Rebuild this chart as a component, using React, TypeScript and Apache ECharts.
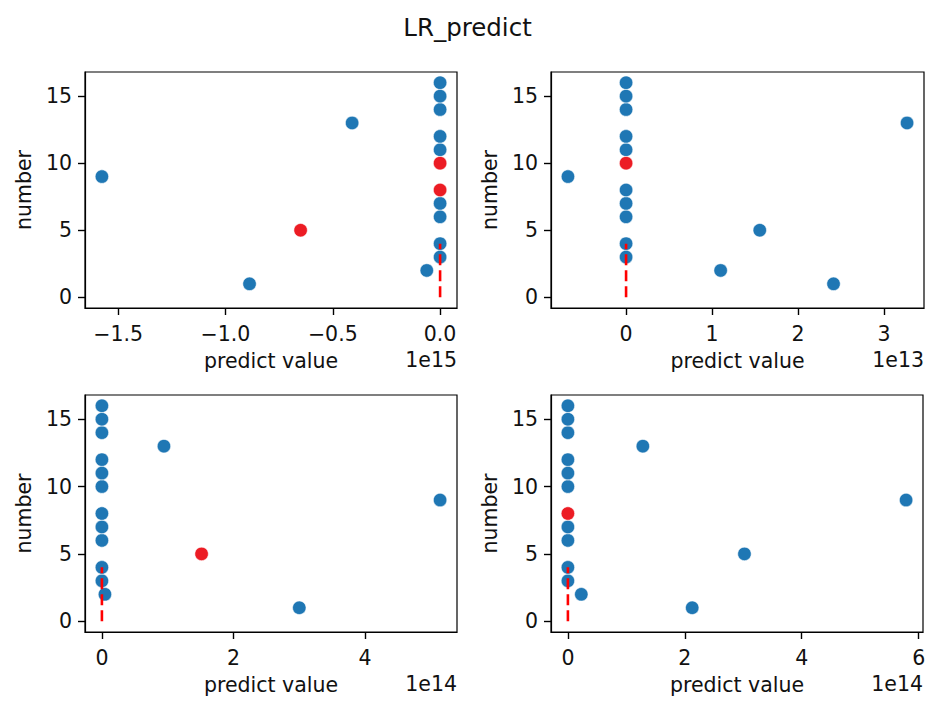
import React, { useEffect, useRef } from "react";
import * as echarts from "echarts";

// ---- data ----
const TITLE = "LR_predict";
const X_NAME = "predict value";
const Y_NAME = "number";
const NUMBERS = [1, 2, 3, 4, 5, 6, 7, 8, 9, 10, 11, 12, 13, 14, 15, 16];

// predicted values, one array per subplot (true values)
const PRED_1 = [-0.888e15, -0.062e15, 0, 0, -0.65e15, 0, 0, 0, -1.576e15, 0, 0, 0, -0.41e15, 0, 0, 0];
const PRED_2 = [2.413e13, 1.1e13, 0, 0, 1.555e13, 0, 0, 0, -0.676e13, 0, 0, 0, 3.268e13, 0, 0, 0];
const PRED_3 = [3.0e14, 0.046e14, 0, 0, 1.515e14, 0, 0, 0, 5.14e14, 0, 0, 0, 0.943e14, 0, 0, 0];
const PRED_4 = [2.126e14, 0.229e14, 0, 0, 3.02e14, 0, 0, 0, 5.785e14, 0, 0, 0, 1.282e14, 0, 0, 0];

// numbers drawn in red, per subplot
const RED_1 = [5, 8, 10];
const RED_2 = [10];
const RED_3 = [5];
const RED_4 = [8];

// dashed reference line (x, from y, to y)
const REF_X = 0;
const REF_Y = [0, 4];

// axis offset exponents and tick labels
const EXPONENTS = [15, 13, 14, 14];
const X_TICKS = [
  [-1.5, -1.0, -0.5, 0.0],
  [0, 1, 2, 3],
  [0, 2, 4],
  [0, 2, 4, 6],
];
const X_DECIMALS = [1, 0, 0, 0];
const Y_TICKS = [0, 5, 10, 15];

const PREDS = [PRED_1, PRED_2, PRED_3, PRED_4];
const REDS = [RED_1, RED_2, RED_3, RED_4];

// ---- layout / style ----
const GRIDS = [
  { left: 85, top: 72, width: 372, height: 236 },
  { left: 551, top: 72, width: 373, height: 236 },
  { left: 85, top: 395, width: 372, height: 237 },
  { left: 551, top: 395, width: 372, height: 237 },
];
const FONT = "DejaVu Sans";
const FS = 20.5;
const BLUE = "#1f77b4";
const RED = "#ec1c24";
const TXT = "#111";

function extent(vals: number[]) {
  const mn = Math.min(...vals);
  const mx = Math.max(...vals);
  const m = (mx - mn) * 0.05;
  return [mn - m, mx + m];
}

const fmtNum = (v: number, d: number) => v.toFixed(d).replace("-", "\u2212");

export default function App() {
  const ref = useRef<HTMLDivElement>(null);
  useEffect(() => {
    if (!ref.current) return;
    const chart = echarts.init(ref.current, null, { renderer: "svg" });
    const grid: any[] = [];
    const xAxis: any[] = [];
    const yAxis: any[] = [];
    const series: any[] = [];
    const graphic: any[] = [];

    PREDS.forEach((pred, i) => {
      const g = GRIDS[i];
      const scale = Math.pow(10, EXPONENTS[i]);
      grid.push({
        ...g,
        show: true,
        borderColor: "#000",
        borderWidth: 1.2,
        backgroundColor: "#fff",
        containLabel: false,
      });
      const [xmin, xmax] = extent([...pred, REF_X]);
      const [ymin, ymax] = extent([...NUMBERS, ...REF_Y]);
      const dec = X_DECIMALS[i];
      xAxis.push({
        type: "value",
        gridIndex: i,
        min: xmin,
        max: xmax,
        splitLine: { show: false },
        axisLine: { show: true, onZero: false, lineStyle: { color: "#000", width: 1.2 } },
        axisTick: {
          show: true,
          length: 7,
          lineStyle: { color: "#000", width: 1.4 },
          customValues: X_TICKS[i].map((t) => t * scale),
        },
        axisLabel: {
          fontFamily: FONT,
          fontSize: FS,
          color: TXT,
          margin: 15,
          customValues: X_TICKS[i].map((t) => t * scale),
          formatter: (v: number) => fmtNum(v / scale, dec),
        },
        name: X_NAME,
        nameLocation: "middle",
        nameGap: 42,
        nameTextStyle: { fontFamily: FONT, fontSize: FS, color: TXT },
      });
      yAxis.push({
        type: "value",
        gridIndex: i,
        min: ymin,
        max: ymax,
        splitLine: { show: false },
        axisLine: { show: true, onZero: false, lineStyle: { color: "#000", width: 1.2 } },
        axisTick: {
          show: true,
          length: 7,
          lineStyle: { color: "#000", width: 1.4 },
          customValues: Y_TICKS,
        },
        axisLabel: {
          fontFamily: FONT,
          fontSize: FS,
          color: TXT,
          margin: 13,
          customValues: Y_TICKS,
          formatter: (v: number) => String(Math.round(v)),
        },
        name: Y_NAME,
        nameLocation: "middle",
        nameGap: 51,
        nameTextStyle: { fontFamily: FONT, fontSize: FS, color: TXT },
      });
      const red = REDS[i];
      const bluePts = NUMBERS.map((n, k) => [pred[k], n]).filter((p) => !red.includes(p[1]));
      const redPts = NUMBERS.map((n, k) => [pred[k], n]).filter((p) => red.includes(p[1]));
      const sym = {
        type: "scatter",
        xAxisIndex: i,
        yAxisIndex: i,
        symbolSize: 13.5,
        silent: true,
      };
      series.push({
        ...sym,
        data: bluePts,
        itemStyle: { color: BLUE, borderColor: "rgba(255,255,255,0.7)", borderWidth: 0.8, opacity: 1 },
      });
      series.push({
        ...sym,
        data: redPts,
        itemStyle: { color: RED, borderColor: "rgba(255,255,255,0.7)", borderWidth: 0.8, opacity: 1 },
      });
      series.push({
        type: "line",
        xAxisIndex: i,
        yAxisIndex: i,
        data: REF_Y.map((y) => [REF_X, y]),
        symbol: "none",
        silent: true,
        z: 5,
        lineStyle: { color: "#ff0000", width: 2.6, type: [11, 5] },
      });
      graphic.push({
        type: "text",
        right: 935 - (g.left + g.width),
        top: g.top + g.height + 41,
        style: {
          text: "1e" + EXPONENTS[i],
          fontFamily: FONT,
          fontSize: FS,
          fill: TXT,
        },
      });
    });

    chart.setOption({
      animation: false,
      backgroundColor: "#fff",
      title: {
        text: TITLE,
        left: "center",
        top: 10,
        textStyle: { fontFamily: FONT, fontSize: 24.5, fontWeight: "normal", color: TXT },
      },
      grid,
      xAxis,
      yAxis,
      series,
      graphic,
    });
    return () => chart.dispose();
  }, []);
  return (
    <div
      ref={ref}
      style={{ position: "fixed", left: 0, top: 0, width: 935, height: 714, background: "#fff" }}
    />
  );
}
